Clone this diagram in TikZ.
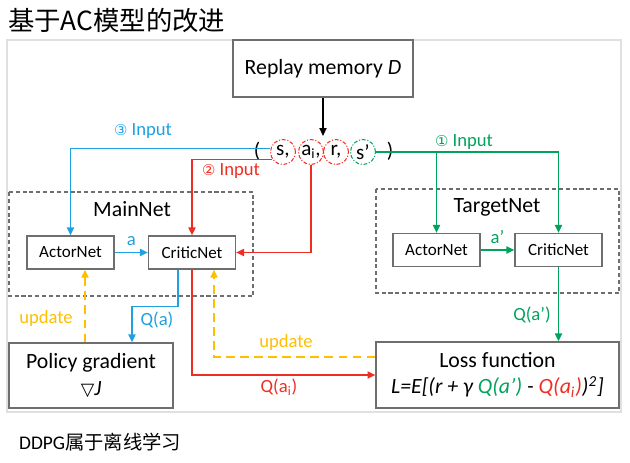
\documentclass[tikz,border=0pt]{standalone}
\usepackage{fontspec}
\usepackage{xcolor}
\setmainfont{Carlito}
\newfontfamily\cjkfont{Noto Sans CJK SC}
\newfontfamily\symfont{DejaVu Sans}
\usetikzlibrary{arrows.meta}

\definecolor{inblue}{RGB}{30,160,226}
\definecolor{inred}{RGB}{240,45,35}
\definecolor{ingreen}{RGB}{0,163,92}
\definecolor{updgold}{RGB}{255,190,0}
\definecolor{boxgray}{RGB}{110,110,110}

\newcommand\bigsize{\fontsize{12.4}{15}\selectfont}
\newcommand\lblsize{\fontsize{10.6}{12}\selectfont}
\newcommand\numsym[1]{{\symfont\fontsize{8.5}{10}\selectfont #1}}

\tikzset{
  netbox/.style={draw=boxgray, line width=0.7pt, minimum width=1.74cm, minimum height=0.66cm, font=\fontsize{9.7}{11}\selectfont},
  bigbox/.style={draw=boxgray, line width=0.7pt, align=center, font=\bigsize},
  grpbox/.style={draw=boxgray, line width=0.6pt, dash pattern=on 2.3pt off 1.6pt},
  elem/.style={circle, minimum size=0.5cm, inner sep=0pt, line width=0.6pt, dash pattern=on 2.2pt off 1pt on 0.6pt off 1pt, font=\fontsize{12}{14}\selectfont},
  flow/.style={line width=0.9pt, -{Triangle[length=4.5pt,width=4pt]}},
  upd/.style={flow, updgold, dash pattern=on 5pt off 3pt},
  lbl/.style={font=\lblsize},
}

\begin{document}
\begin{tikzpicture}[x=0.02cm,y=-0.02cm]
  \useasboundingbox (0,0) rectangle (630,463);
  \draw[black!12, line width=0.6pt] (7,40) rectangle (621,412);
  \node[anchor=west, font=\cjkfont\fontsize{15}{17}\selectfont] (title) at (2,20) {基于AC模型的改进};

  \node[bigbox, fill=white, minimum width=3.6cm, minimum height=1.14cm] (rm) at (323,68.5) {Replay memory \textit{D}};
  \node[elem, draw=inred] (es) at (283,152) {s,};
  \node[elem, draw=inred] (ea) at (311,152) {a\textsubscript{i},};
  \node[elem, draw=inred] (er) at (336,152) {r,};
  \node[elem, draw=ingreen] (esp) at (363,152) {s’};
  \node[font=\fontsize{12}{14}\selectfont] (lp) at (257,151) {(};
  \node[font=\fontsize{12}{14}\selectfont] (rp) at (390,151) {)};
  \coordinate (tin) at (323,136);
  \draw[flow] (rm) -- (tin);

  \draw[grpbox] (9,192) rectangle (253,296);
  \node[font=\bigsize] (mainlbl) at (132,209) {MainNet};
  \node[netbox] (mact) at (70.5,252.5) {ActorNet};
  \node[netbox] (mcrit) at (192,252.5) {CriticNet};

  \draw[grpbox] (376,189) rectangle (619,293);
  \node[font=\bigsize] (tgtlbl) at (497,207) {TargetNet};
  \node[netbox] (tact) at (436.5,250) {ActorNet};
  \node[netbox] (tcrit) at (558.5,250) {CriticNet};

  \node[bigbox, minimum width=3.28cm, minimum height=1.3cm] (pg) at (91,375.5) {Policy gradient\\{\symfont\fontsize{10}{12}\selectfont ▽}\textit{J}};
  \node[bigbox, minimum width=4.86cm, minimum height=1.32cm] (loss) at (497.5,375) {Loss function\\\textit{L=E[(r + γ \textcolor{ingreen}{Q(a’)} - \textcolor{inred}{Q(a\textsubscript{i})})\textsuperscript{2}]}};

  \draw[flow, inblue] (es.165) -| (mact.north);
  \draw[flow, inred] (es.215) -| (mcrit.north);
  \draw[flow, inred] (ea.south) |- (mcrit.east);
  \draw[flow, ingreen] (esp.east) -| (tcrit.north);
  \draw[flow, ingreen] (tact.north |- esp.east) -- (tact.north);
  \node[lbl, inblue] (in3) at (143,131) {\numsym{③} Input};
  \node[lbl, inred] (in2) at (231,171) {\numsym{②} Input};
  \node[lbl, ingreen] (in1) at (464,142) {\numsym{①} Input};

  \draw[flow, inblue] (mact) -- node[above, lbl] (la) {a} (mcrit);
  \draw[flow, ingreen] (tact) -- node[above, lbl] (lap) {a’} (tcrit);

  \draw[flow, inblue] ([xshift=-0.28cm]mcrit.south) -- ++(0,37) -| ([xshift=0.82cm]pg.north);
  \node[lbl, inblue] (lqa) at (157,320) {Q(a)};
  \draw[upd] ([xshift=-0.12cm]pg.north) -- ([xshift=-0.12cm]pg.north |- mact.south);
  \node[lbl, updgold] (lup1) at (46,319) {update};
  \draw[upd] ([yshift=0.36cm]loss.west) -| ([xshift=0.44cm]mcrit.south);
  \node[lbl, updgold] (lup2) at (286,343) {update};
  \draw[flow, inred] (mcrit.south) |- (loss.west);
  \node[lbl, inred] (lqai) at (279,387) {Q(a\textsubscript{i})};
  \draw[flow, ingreen] (tcrit.south) -- (tcrit.south |- loss.north);
  \node[lbl, ingreen] (lqap) at (532,315) {Q(a’)};

  \node[anchor=west, font=\fontsize{11}{13}\selectfont] (note) at (13,442) {DDPG{\cjkfont 属于离线学习}};
\end{tikzpicture}
\end{document}
